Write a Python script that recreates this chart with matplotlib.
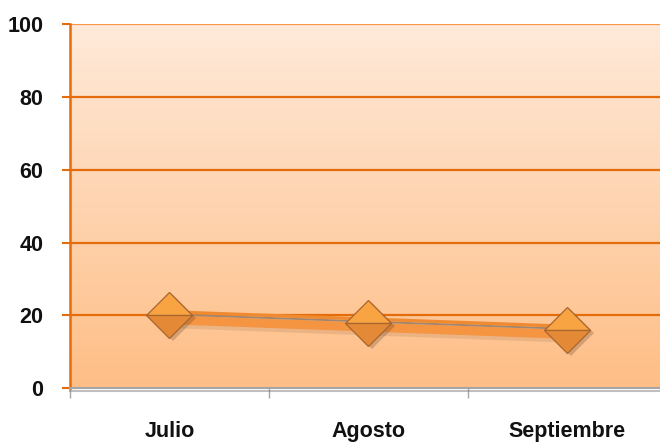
import numpy as np
import matplotlib
matplotlib.use("Agg")
import matplotlib.pyplot as plt
import matplotlib.transforms as mtransforms
import matplotlib.patheffects as pe
from matplotlib.colors import LinearSegmentedColormap

categories = ["Julio", "Agosto", "Septiembre"]
values = [20, 18, 16]
yticks = [0, 20, 40, 60, 80, 100]

plt.rcParams['font.family'] = ['Liberation Sans', 'DejaVu Sans']

fig = plt.figure(figsize=(6.6, 4.44), dpi=100)
W, H = 660, 444
left, right, top, bottom = 70, 667, 24.5, 388
ax = fig.add_axes([left / W, (H - bottom) / H, (right - left) / W, (bottom - top) / H])

x = np.arange(len(categories))
ax.set_xlim(-0.5, len(categories) - 0.5)
ax.set_ylim(0, 100)

# gradient background
cmap = LinearSegmentedColormap.from_list("bg", ["#FFBE86", "#FEEADA"])
grad = np.linspace(0, 1, 256).reshape(-1, 1)
ax.imshow(grad, cmap=cmap, aspect="auto", extent=[0, 1, 0, 1],
          transform=ax.transAxes, origin="lower", zorder=0)

# gridlines
for t in yticks[1:]:
    c = "#F79646" if t == 100 else "#E46C0A"
    ax.axhline(t, color=c, lw=1.6, zorder=1)

def off(dx, dy):
    return mtransforms.offset_copy(ax.transData, fig=fig, x=dx, y=dy, units="dots")

# ribbon-like 3D line
ax.plot(x, values, color="#7a5030", lw=7, alpha=0.14, transform=off(2, -8), zorder=2,
        solid_capstyle="butt")
ax.plot(x, values, color="#F59441", lw=6.5, transform=off(0, -4.5), zorder=3,
        solid_capstyle="butt")
ax.plot(x, values, color="#A08670", lw=1.4, transform=off(0, 1), zorder=3)
ax.plot(x, values, color="#F08A30", lw=2.4, transform=off(0, 3.5), zorder=3)

# marker shadow
ax.plot(x, values, linestyle="none", marker="D", markersize=23, color="#5a3a20",
        alpha=0.25, transform=off(4, -3), zorder=4, markeredgewidth=0)
# markers
ax.plot(x, values, linestyle="none", marker="D", markersize=23, fillstyle="top",
        markerfacecolor="#F9A443", markerfacecoloralt="#E48A36",
        markeredgecolor="#A8652E", markeredgewidth=0.9, zorder=5)

# spines
for s in ["top", "right"]:
    ax.spines[s].set_visible(False)
ax.spines["left"].set_color("#E46C0A")
ax.spines["left"].set_linewidth(1.8)
ax.spines["bottom"].set_color("#A6A6A6")
ax.spines["bottom"].set_linewidth(1.5)
ax.spines["bottom"].set_path_effects([pe.SimpleLineShadow(offset=(0, -2), shadow_color="gray", alpha=0.5), pe.Normal()])

ax.set_yticks(yticks)
ax.set_yticklabels([str(t) for t in yticks])
ax.set_xticks(np.arange(len(categories) + 1) - 0.5, minor=False)
ax.set_xticklabels([])
ax.set_xticks(x, minor=True)
ax.set_xticklabels(categories, minor=True)

ax.tick_params(axis="y", which="major", length=6, width=1.5, color="#E46C0A", pad=13,
               labelsize=15.5)
ax.tick_params(axis="x", which="major", length=7.5, width=1.0, color="#A6A6A6")
ax.tick_params(axis="x", which="minor", length=0, pad=24, labelsize=15.5)
for lab in ax.get_yticklabels() + ax.get_xticklabels(minor=True):
    lab.set_fontweight("bold")
    lab.set_color("#111111")

fig.savefig("out.png", dpi=100)
